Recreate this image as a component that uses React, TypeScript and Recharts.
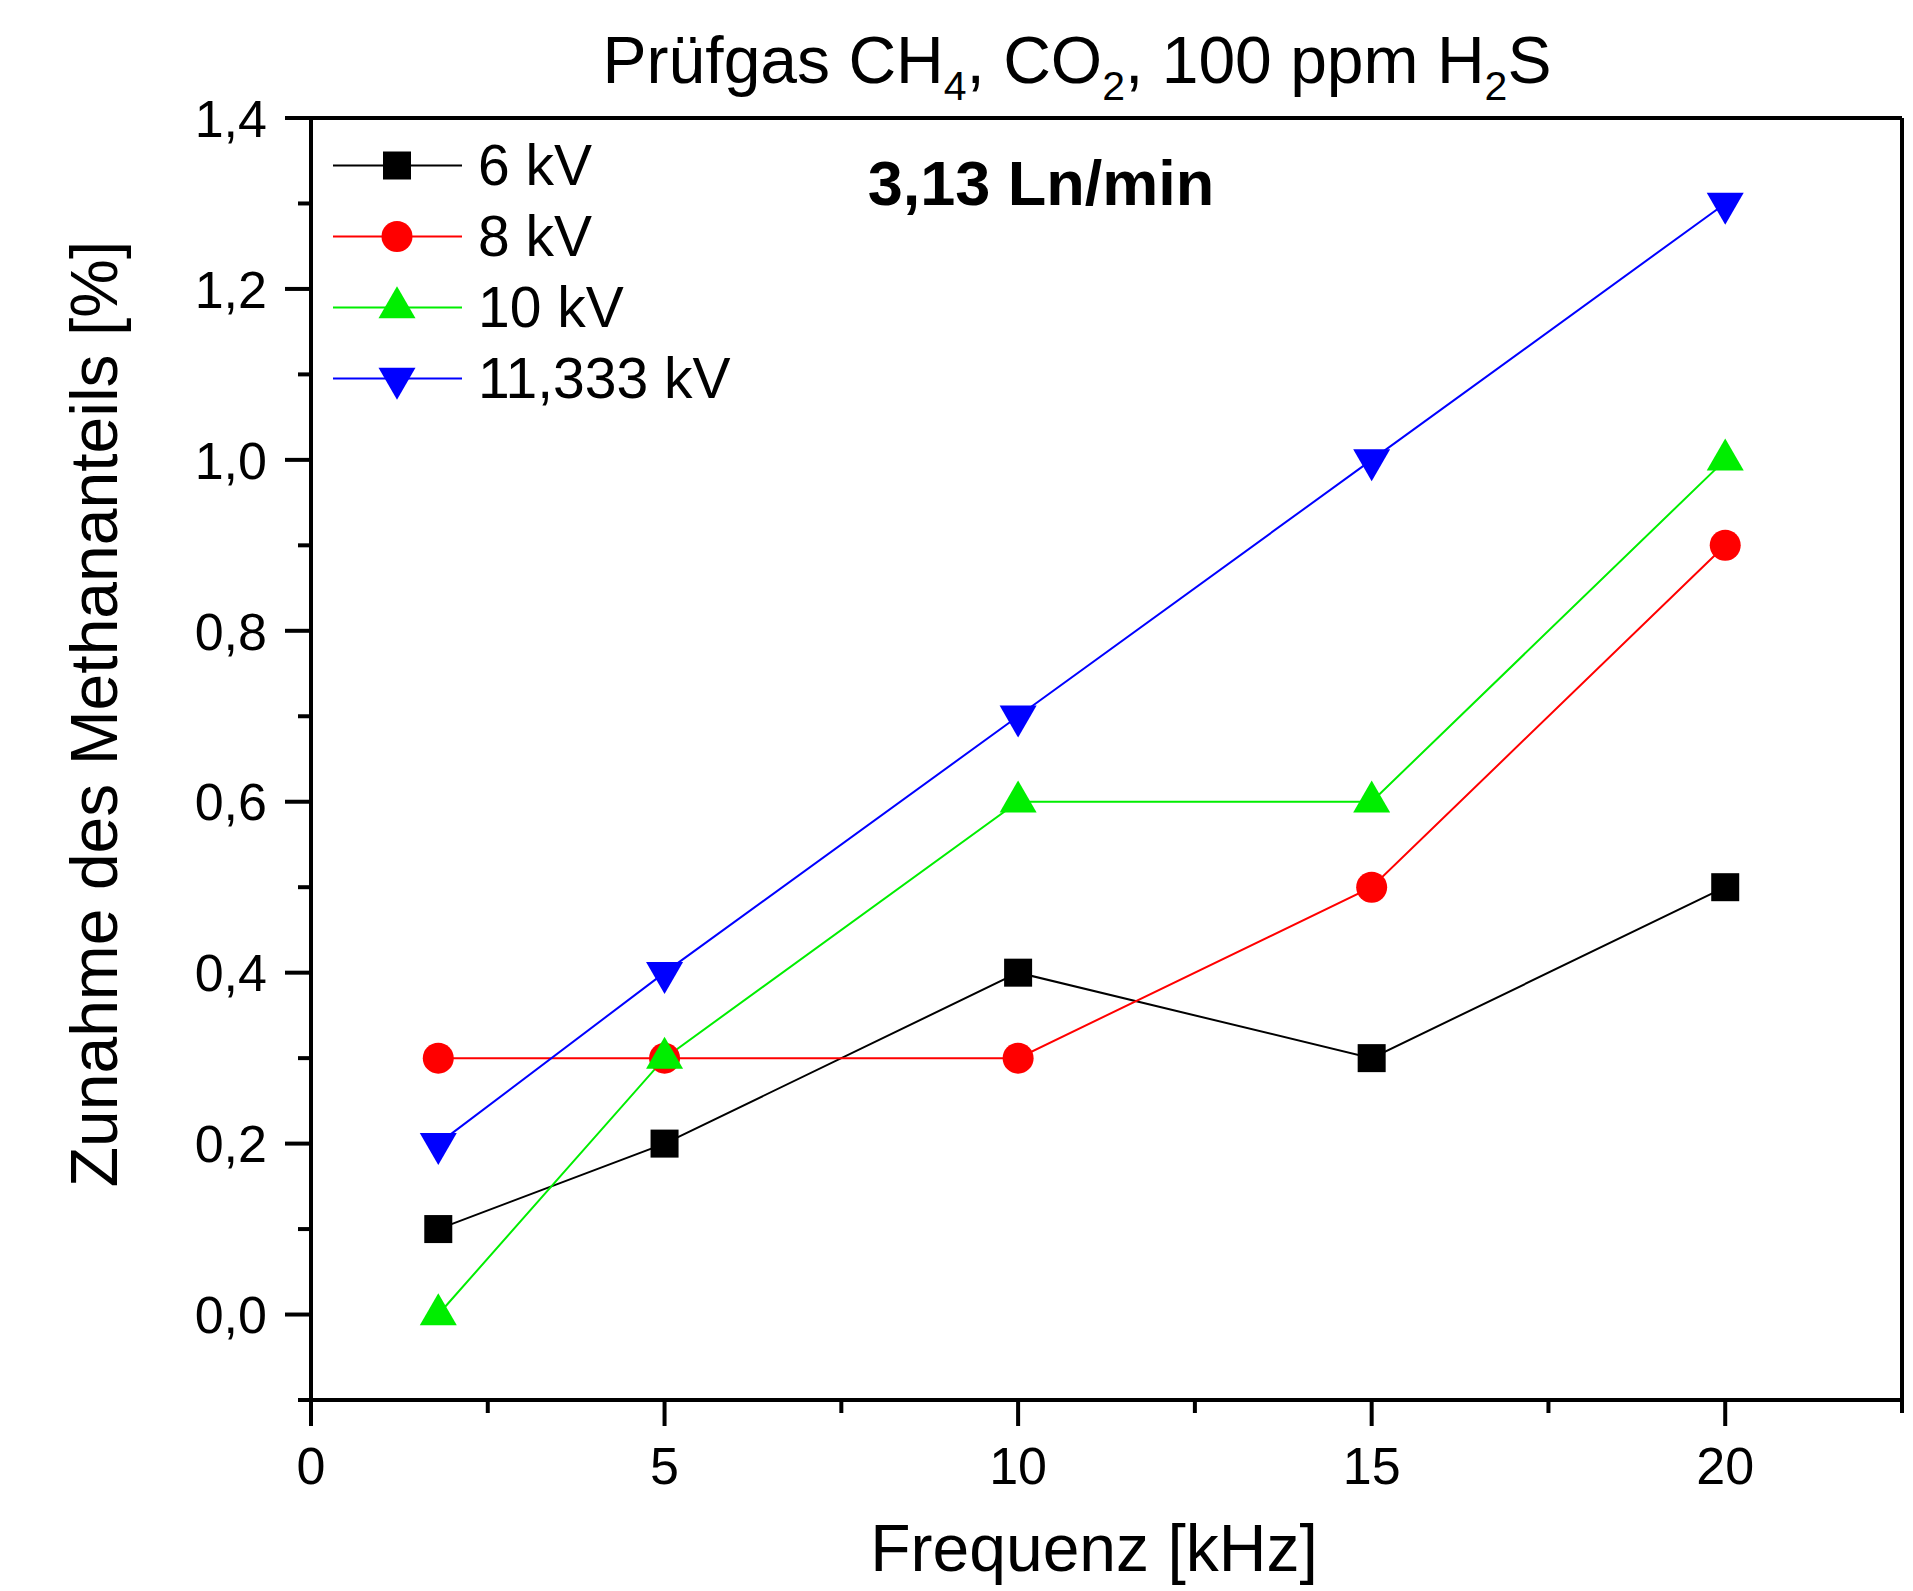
import React from 'react';
import { LineChart, Line, XAxis, YAxis, Legend, Label } from 'recharts';

const frequencies = [1.8, 5, 10, 15, 20];
const values6kV = [0.1, 0.2, 0.4, 0.3, 0.5];
const values8kV = [0.3, 0.3, 0.3, 0.5, 0.9];
const values10kV = [0.0, 0.3, 0.6, 0.6, 1.0];
const values11kV = [0.2, 0.4, 0.7, 1.0, 1.3];
const seriesNames = ['6 kV', '8 kV', '10 kV', '11,333 kV'];
const seriesColors = ['#000000', '#ff0000', '#00ee00', '#0000ff'];
const seriesShapes = ['square', 'circle', 'triangleUp', 'triangleDown'];
const seriesKeys = ['s6', 's8', 's10', 's11'];

const xTicks = [0, 2.5, 5, 7.5, 10, 12.5, 15, 17.5, 20, 22.5];
const xMajorLabels = ['0', '5', '10', '15', '20'];
const yTicks = [-0.1, 0, 0.1, 0.2, 0.3, 0.4, 0.5, 0.6, 0.7, 0.8, 0.9, 1.0, 1.1, 1.2, 1.3, 1.4];
const yMajorLabels = ['0,0', '0,2', '0,4', '0,6', '0,8', '1,0', '1,2', '1,4'];

const titleText = 'Prüfgas CH₄, CO₂, 100 ppm H₂S';
const annotationText = '3,13 Ln/min';
const xTitle = 'Frequenz [kHz]';
const yTitle = 'Zunahme des Methananteils [%]';

const data = frequencies.map((f, i) => ({
  f,
  s6: values6kV[i],
  s8: values8kV[i],
  s10: values10kV[i],
  s11: values11kV[i],
}));

const FONT = "'Liberation Sans', Arial, sans-serif";

function Marker({ shape, cx, cy, color }: { shape: string; cx: number; cy: number; color: string }) {
  if (shape === 'square') {
    return <rect x={cx - 14} y={cy - 14} width={28} height={28} fill={color} />;
  }
  if (shape === 'circle') {
    return <circle cx={cx} cy={cy} r={15.5} fill={color} />;
  }
  const w = 37;
  const h = 32;
  if (shape === 'triangleUp') {
    const top = cy - (2 * h) / 3;
    const bot = cy + h / 3;
    return <polygon points={`${cx},${top} ${cx - w / 2},${bot} ${cx + w / 2},${bot}`} fill={color} />;
  }
  const top = cy - h / 3;
  const bot = cy + (2 * h) / 3;
  return <polygon points={`${cx - w / 2},${top} ${cx + w / 2},${top} ${cx},${bot}`} fill={color} />;
}

const XTick = (props: any) => {
  const { x, y, payload } = props;
  const v = payload.value;
  const major = Math.abs(v / 5 - Math.round(v / 5)) < 1e-6 && v <= 20;
  const label = major ? xMajorLabels[Math.round(v / 5)] : null;
  return (
    <g>
      <line x1={x} x2={x} y1={y} y2={y + (major ? 26 : 13)} stroke="#000" strokeWidth={4} />
      {label !== null && (
        <text x={x} y={y + 84} textAnchor="middle" fontSize={52} fontFamily={FONT} fill="#000">
          {label}
        </text>
      )}
    </g>
  );
};

const YTick = (props: any) => {
  const { x, y, payload } = props;
  const v = payload.value;
  const idx = Math.round(v * 10);
  const major = idx >= 0 && idx % 2 === 0;
  const label = major ? yMajorLabels[idx / 2] : null;
  return (
    <g>
      <line x1={x - (major ? 26 : 13)} x2={x} y1={y} y2={y} stroke="#000" strokeWidth={4} />
      {label !== null && (
        <text x={x - 44} y={y} dy="0.36em" textAnchor="end" fontSize={52} fontFamily={FONT} fill="#000">
          {label}
        </text>
      )}
    </g>
  );
};

const renderLegend = () => (
  <div style={{ fontFamily: FONT }}>
    {seriesNames.map((name, i) => (
      <div key={name} style={{ display: 'flex', alignItems: 'center', height: 71 }}>
        <svg width={145} height={71} style={{ display: 'block' }}>
          <line x1={0} x2={129} y1={35.5} y2={35.5} stroke={seriesColors[i]} strokeWidth={2} />
          <Marker shape={seriesShapes[i]} cx={64} cy={35.5} color={seriesColors[i]} />
        </svg>
        <span style={{ fontSize: 57, lineHeight: '71px', color: '#000', whiteSpace: 'nowrap' }}>{name}</span>
      </div>
    ))}
  </div>
);

const renderTitle = () => (
  <text x={1077} y={83} textAnchor="middle" fontSize={66} fontFamily={FONT} fill="#000">
    <tspan>Prüfgas CH</tspan>
    <tspan fontSize={41} dy={17}>4</tspan>
    <tspan dy={-17}>, CO</tspan>
    <tspan fontSize={41} dy={17}>2</tspan>
    <tspan dy={-17}>, 100 ppm H</tspan>
    <tspan fontSize={41} dy={17}>2</tspan>
    <tspan dy={-17}>S</tspan>
  </text>
);

const renderAnnotation = () => (
  <text x={1041} y={205} textAnchor="middle" fontSize={63} fontWeight="bold" fontFamily={FONT} fill="#000">
    {annotationText}
  </text>
);

const renderXTitle = () => (
  <g>
    <text x={1094} y={1571} textAnchor="middle" fontSize={66} fontFamily={FONT} fill="#000">
      {xTitle}
    </text>
    {renderTitle()}
    {renderAnnotation()}
  </g>
);

const renderYTitle = () => (
  <text
    x={117}
    y={714}
    transform="rotate(-90 117 714)"
    textAnchor="middle"
    fontSize={66}
    fontFamily={FONT}
    fill="#000"
  >
    {yTitle}
  </text>
);

export default function App() {
  return (
    <div style={{ position: 'absolute', left: 0, top: 0, width: 1913, height: 1591, background: '#fff' }}>
      <LineChart
        width={1913}
        height={1591}
        data={data}
        margin={{ top: 117, right: 10, left: 0, bottom: 0 }}
        title={titleText}
      >
        <XAxis
          dataKey="f"
          type="number"
          domain={[0, 22.5]}
          ticks={xTicks}
          interval={0}
          allowDataOverflow
          height={191}
          tickSize={0}
          tickMargin={0}
          tickLine={false}
          stroke="#000"
          strokeWidth={4}
          axisLine={{ stroke: '#000', strokeWidth: 4 }}
          tick={XTick}
        >
          <Label content={renderXTitle} />
        </XAxis>
        <XAxis
          xAxisId="top"
          orientation="top"
          dataKey="f"
          type="number"
          domain={[0, 22.5]}
          allowDataOverflow
          height={1}
          tick={false}
          tickLine={false}
          stroke="#000"
          strokeWidth={4}
          axisLine={{ stroke: '#000', strokeWidth: 4 }}
        />
        <YAxis
          type="number"
          domain={[-0.1, 1.4]}
          ticks={yTicks}
          interval={0}
          allowDataOverflow
          width={311}
          tickSize={0}
          tickMargin={0}
          tickLine={false}
          stroke="#000"
          strokeWidth={4}
          axisLine={{ stroke: '#000', strokeWidth: 4 }}
          tick={YTick}
        >
          <Label content={renderYTitle} />
        </YAxis>
        <YAxis
          yAxisId="right"
          orientation="right"
          type="number"
          domain={[-0.1, 1.4]}
          allowDataOverflow
          width={1}
          tick={false}
          tickLine={false}
          stroke="#000"
          strokeWidth={4}
          axisLine={{ stroke: '#000', strokeWidth: 4 }}
        />
        <Legend
          layout="horizontal"
          verticalAlign="middle"
          align="center"
          wrapperStyle={{ left: 333, top: 130, width: 420, height: 290 }}
          content={renderLegend}
        />
        {seriesKeys.map((key, i) => (
          <Line
            key={key}
            type="linear"
            dataKey={key}
            name={seriesNames[i]}
            stroke={seriesColors[i]}
            strokeWidth={2}
            isAnimationActive={false}
            activeDot={false}
            dot={(p: any) => (
              <Marker
                key={`${key}-${p.index}`}
                shape={seriesShapes[i]}
                cx={p.cx}
                cy={p.cy}
                color={seriesColors[i]}
              />
            )}
          />
        ))}
      </LineChart>
    </div>
  );
}
